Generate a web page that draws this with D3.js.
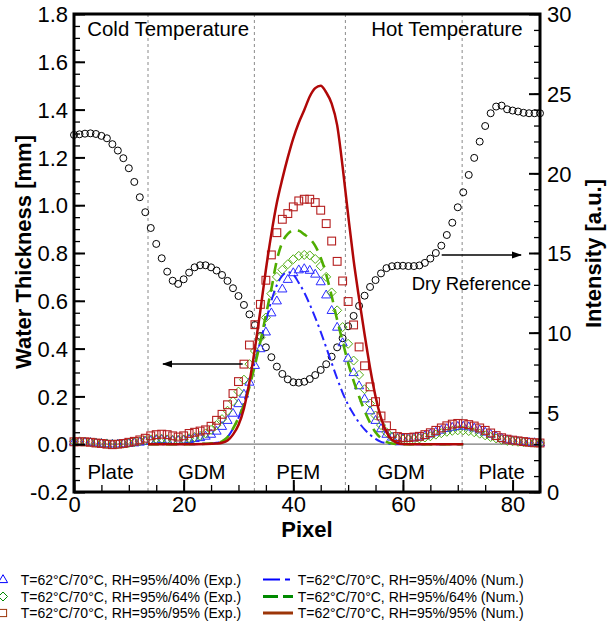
<!DOCTYPE html>
<html>
<head>
<meta charset="utf-8">
<script src="https://cdn.jsdelivr.net/npm/d3@7"></script>
<style>
  html, body { margin: 0; padding: 0; background: #fff; }
  svg { display: block; }
  text { font-family: "Liberation Sans", Arial, Helvetica, sans-serif; fill: #000; }
</style>
</head>
<body>
<svg id="chart" width="612" height="627"></svg>
<script>
// ---------------- DATA ----------------
const pixel = [0,1,2,3,4,5,6,7,8,9,10,11,12,13,14,15,16,17,18,19,20,21,22,23,24,25,26,27,28,29,
  30,31,32,33,34,35,36,37,38,39,40,41,42,43,44,45,46,47,48,49,50,51,52,53,54,55,56,57,58,59,
  60,61,62,63,64,65,66,67,68,69,70,71,72,73,74,75,76,77,78,79,80,81,82,83,84,85];

// Dry reference intensity [a.u.] (right axis)
const dryReference = [22.41,22.45,22.49,22.51,22.47,22.35,22.2,21.83,21.43,20.95,
  20.32,19.46,18.5,17.56,16.57,15.57,14.67,13.83,13.26,13.06,
  13.35,13.77,14.1,14.23,14.23,14.1,13.9,13.62,13.25,12.79,
  12.3,11.74,11.15,10.48,9.79,9.08,8.46,7.87,7.41,7.07,
  6.89,6.86,6.92,7.09,7.34,7.66,8.02,8.49,9.08,9.65,
  10.4,11.05,11.68,12.32,12.87,13.3,13.72,14.05,14.17,14.2,
  14.2,14.18,14.18,14.22,14.38,14.65,15.0,15.46,16.13,16.9,
  17.87,18.81,19.9,20.97,21.99,22.97,23.77,24.19,24.25,24.02,
  23.94,23.88,23.8,23.77,23.77,23.77];

// Experimental water thickness [mm]
const exp40 = [0.01,0.01,0.009,0.008,0.006,0.004,0.002,0.001,0.001,0.002,
  0.004,0.006,0.009,0.012,0.015,0.018,0.02,0.018,0.016,0.016,
  0.018,0.02,0.024,0.028,0.034,0.042,0.055,0.075,0.1,0.13,
  0.17,0.21,0.26,0.33,0.4,0.47,0.55,0.6,0.65,0.69,
  0.718,0.73,0.735,0.728,0.712,0.68,0.625,0.56,0.49,0.425,
  0.36,0.3,0.245,0.19,0.14,0.1,0.065,0.042,0.03,0.025,
  0.024,0.025,0.027,0.031,0.036,0.043,0.051,0.059,0.066,0.071,
  0.075,0.076,0.073,0.068,0.06,0.051,0.042,0.033,0.025,0.019,
  0.015,0.012,0.01,0.008,0.007,0.006];
const exp64 = [0.012,0.012,0.01,0.008,0.006,0.004,0.002,0.0,0.0,0.002,
  0.005,0.008,0.012,0.016,0.02,0.022,0.022,0.02,0.018,0.018,
  0.02,0.025,0.03,0.035,0.045,0.06,0.08,0.105,0.14,0.18,
  0.22,0.27,0.335,0.39,0.446,0.53,0.63,0.7,0.73,0.753,
  0.774,0.788,0.792,0.79,0.775,0.745,0.7,0.635,0.56,0.49,
  0.42,0.35,0.29,0.23,0.17,0.12,0.08,0.05,0.03,0.022,
  0.02,0.02,0.021,0.024,0.028,0.033,0.04,0.046,0.052,0.056,
  0.058,0.058,0.055,0.05,0.044,0.037,0.03,0.024,0.018,0.014,
  0.012,0.01,0.008,0.007,0.006,0.005];
const exp95 = [0.01,0.01,0.01,0.008,0.005,0.003,0.0,-0.002,0.0,0.003,
  0.008,0.012,0.018,0.025,0.035,0.04,0.042,0.04,0.035,0.03,
  0.035,0.045,0.05,0.055,0.06,0.075,0.1,0.125,0.165,0.212,
  0.262,0.335,0.415,0.5,0.585,0.686,0.792,0.885,0.941,0.965,
  0.993,1.018,1.025,1.025,1.011,0.979,0.923,0.85,0.765,0.683,
  0.597,0.499,0.407,0.328,0.24,0.178,0.118,0.077,0.045,0.032,
  0.028,0.028,0.03,0.033,0.04,0.048,0.058,0.068,0.077,0.084,
  0.087,0.086,0.082,0.076,0.068,0.058,0.047,0.036,0.027,0.021,
  0.017,0.014,0.011,0.008,0.006,0.005];

// Numerical water thickness [mm]
const numX = [13.5,20,24,26,27,28,29,30,31,32,33,34,35,36,37,38,39,40,41,42,43,44,45,46,47,48,49,50,
  51,52,53,54,55,56,57,58,59,60,62,71];
const num40 = [0,0,0.002,0.006,0.012,0.03,0.065,0.11,0.175,0.255,0.345,0.43,0.515,0.6,0.665,0.705,0.72,0.71,
  0.675,0.635,0.585,0.53,0.47,0.405,0.34,0.275,0.215,0.165,0.125,0.09,0.062,0.04,0.022,0.01,0.004,0.001,0,0,0,0];
const num64 = [0,0,0.002,0.006,0.012,0.03,0.065,0.11,0.165,0.24,0.33,0.43,0.54,0.65,0.77,0.845,0.88,0.895,
  0.893,0.878,0.86,0.83,0.78,0.71,0.62,0.52,0.43,0.34,0.265,0.2,0.14,0.09,0.05,0.025,0.01,0.003,0.001,0,0,0];
const num95 = [0,0,0.001,0.003,0.006,0.015,0.04,0.08,0.15,0.26,0.4,0.56,0.73,0.88,1.01,1.11,1.2,1.28,
  1.345,1.398,1.455,1.49,1.5,1.472,1.425,1.335,1.16,0.96,0.77,0.61,0.46,0.32,0.2,0.11,0.05,0.018,0.005,0.001,0,0];

// Region boundaries and labels
const boundaries = [13.5, 32.9, 49.5, 70.8];
const regionLabels = ["Plate", "GDM", "PEM", "GDM", "Plate"];
const regionCenters = [6.7, 23.3, 40.9, 59.7, 78.0];

// Axis ticks
const xTicks = [0, 20, 40, 60, 80];
const leftTicks = [-0.2, 0.0, 0.2, 0.4, 0.6, 0.8, 1.0, 1.2, 1.4, 1.6, 1.8];
const leftTickLabels = ["-0.2","0.0","0.2","0.4","0.6","0.8","1.0","1.2","1.4","1.6","1.8"];
const rightTicks = [0, 5, 10, 15, 20, 25, 30];
const rightTickLabels = ["0","5","10","15","20","25","30"];

const legendExp = ["T=62°C/70°C, RH=95%/40% (Exp.)", "T=62°C/70°C, RH=95%/64% (Exp.)", "T=62°C/70°C, RH=95%/95% (Exp.)"];
const legendNum = ["T=62°C/70°C, RH=95%/40% (Num.)", "T=62°C/70°C, RH=95%/64% (Num.)", "T=62°C/70°C, RH=95%/95% (Num.)"];

// ---------------- CHART ----------------
const svg = d3.select("#chart");
const L = 74, R = 540, T = 14, B = 492;
const x = d3.scaleLinear().domain([0, 85]).range([L, R]);
const yL = d3.scaleLinear().domain([-0.2, 1.8]).range([B, T]);
const yR = d3.scaleLinear().domain([0, 30]).range([B, T]);

const C = {
  blue: "#2b2bff", green: "#52ad14", red: "#b51f1f",
  blueLine: "#2323ff", greenLine: "#4fad00", redLine: "#b00808",
  legBlue: "#0000ff", legGreen: "#008a00", legRed: "#9c3508"
};

// vertical dashed boundaries
svg.append("g").selectAll("line").data(boundaries).join("line")
  .attr("x1", d => x(d)).attr("x2", d => x(d))
  .attr("y1", T).attr("y2", B)
  .attr("stroke", "#8a8a8a").attr("stroke-width", 1).attr("stroke-dasharray", "3,3");

// zero line
svg.append("line").attr("x1", x(0)).attr("x2", x(85)).attr("y1", yL(0)).attr("y2", yL(0))
  .attr("stroke", "#7a7a7a").attr("stroke-width", 1.2);

// dry reference circles
svg.append("g").selectAll("circle").data(pixel).join("circle")
  .attr("cx", (d) => x(d)).attr("cy", (d, i) => yR(dryReference[i]))
  .attr("r", 3.5).attr("fill", "none").attr("stroke", "#000").attr("stroke-width", 1);

// experimental markers
const triPath = "M0,-4.8L4.6,3.1L-4.6,3.1Z";
const diaPath = "M0,-4.5L4.5,0L0,4.5L-4.5,0Z";
const sq = 3.9;
svg.append("g").selectAll("path").data(pixel).join("path")
  .attr("d", triPath)
  .attr("transform", (d, i) => `translate(${x(d)},${yL(exp40[i])})`)
  .attr("fill", "none").attr("stroke", C.blue).attr("stroke-width", 1);
svg.append("g").selectAll("path").data(pixel).join("path")
  .attr("d", diaPath)
  .attr("transform", (d, i) => `translate(${x(d)},${yL(exp64[i])})`)
  .attr("fill", "none").attr("stroke", C.green).attr("stroke-width", 1);
svg.append("g").selectAll("rect").data(pixel).join("rect")
  .attr("x", d => x(d) - sq).attr("y", (d, i) => yL(exp95[i]) - sq)
  .attr("width", 2 * sq).attr("height", 2 * sq)
  .attr("fill", "none").attr("stroke", C.red).attr("stroke-width", 1.1);

// numerical lines
const lineGen = vals => d3.line().x((d) => x(d)).y((d, i) => yL(vals[i])).curve(d3.curveMonotoneX)(numX);
svg.append("path").attr("d", lineGen(num40)).attr("fill", "none")
  .attr("stroke", C.blueLine).attr("stroke-width", 2).attr("stroke-dasharray", "10,4,2.5,4");
svg.append("path").attr("d", lineGen(num64)).attr("fill", "none")
  .attr("stroke", C.greenLine).attr("stroke-width", 2.6).attr("stroke-dasharray", "11,7");
svg.append("path").attr("d", lineGen(num95)).attr("fill", "none")
  .attr("stroke", C.redLine).attr("stroke-width", 2.5);

// ---------- axes ----------
function styleAxis(g) {
  g.select(".domain").remove();
  g.selectAll(".tick line").attr("stroke", "#000").attr("stroke-width", 2);
  g.selectAll(".tick text").style("font-size", "22px").attr("fill", "#000");
}
// left
svg.append("g").attr("transform", `translate(${L},0)`)
  .call(d3.axisLeft(yL).tickValues(leftTicks).tickSize(-11).tickPadding(6)
    .tickFormat((d, i) => leftTickLabels[i]))
  .call(styleAxis)
  .call(g => g.selectAll(".tick text").attr("dy", "0.35em"));
svg.append("g").attr("transform", `translate(${L},0)`)
  .call(d3.axisLeft(yL).ticks(40).tickSize(-6).tickFormat(""))
  .call(styleAxis)
  .call(g => g.selectAll(".tick line").attr("stroke-width", 1.3));
// right
svg.append("g").attr("transform", `translate(${R},0)`)
  .call(d3.axisRight(yR).tickValues(rightTicks).tickSize(-11).tickPadding(7)
    .tickFormat((d, i) => rightTickLabels[i]))
  .call(styleAxis)
  .call(g => g.selectAll(".tick text").attr("dy", "0.35em"));
svg.append("g").attr("transform", `translate(${R},0)`)
  .call(d3.axisRight(yR).ticks(30).tickSize(-6).tickFormat(""))
  .call(styleAxis)
  .call(g => g.selectAll(".tick line").attr("stroke-width", 1.3));
// bottom
svg.append("g").attr("transform", `translate(0,${B})`)
  .call(d3.axisBottom(x).tickValues(xTicks).tickSize(-12).tickPadding(4))
  .call(styleAxis);
svg.append("g").attr("transform", `translate(0,${B})`)
  .call(d3.axisBottom(x).ticks(17).tickSize(-7).tickFormat(""))
  .call(styleAxis)
  .call(g => g.selectAll(".tick line").attr("stroke-width", 1.3));

// frame
svg.append("rect").attr("x", L).attr("y", T).attr("width", R - L).attr("height", B - T)
  .attr("fill", "none").attr("stroke", "#000").attr("stroke-width", 3);

// axis titles
svg.append("text").attr("transform", `translate(31,252) rotate(-90)`)
  .attr("text-anchor", "middle").style("font-size", "22px").style("font-weight", "bold")
  .text("Water Thickness [mm]");
svg.append("text").attr("transform", `translate(601,253.5) rotate(-90)`)
  .attr("text-anchor", "middle").style("font-size", "22px").style("font-weight", "bold")
  .text("Intensity [a.u.]");
svg.append("text").attr("x", 307).attr("y", 537)
  .attr("text-anchor", "middle").style("font-size", "22px").style("font-weight", "bold")
  .text("Pixel");

// region labels
svg.append("g").selectAll("text").data(regionLabels).join("text")
  .attr("x", (d, i) => x(regionCenters[i])).attr("y", 479)
  .attr("text-anchor", "middle").style("font-size", "20.4px").text(d => d);
svg.append("text").attr("x", 87.3).attr("y", 36).style("font-size", "20.4px").text("Cold Temperature");
svg.append("text").attr("x", 522.7).attr("y", 36).attr("text-anchor", "end").style("font-size", "20.4px").text("Hot Temperature");
svg.append("text").attr("x", 531).attr("y", 289.5).attr("text-anchor", "end").style("font-size", "18.5px").text("Dry Reference");

// arrows
const defs = svg.append("defs");
defs.append("marker").attr("id", "ah").attr("viewBox", "0 0 10 10").attr("refX", 9).attr("refY", 5)
  .attr("markerWidth", 10).attr("markerHeight", 10).attr("markerUnits", "userSpaceOnUse")
  .attr("orient", "auto")
  .append("path").attr("d", "M0,1.5L10,5L0,8.5Z").attr("fill", "#000");
svg.append("line").attr("x1", 242.7).attr("y1", 364).attr("x2", 163).attr("y2", 364)
  .attr("stroke", "#000").attr("stroke-width", 1.3).attr("marker-end", "url(#ah)");
svg.append("line").attr("x1", 441.7).attr("y1", 255).attr("x2", 521).attr("y2", 255)
  .attr("stroke", "#000").attr("stroke-width", 1.3).attr("marker-end", "url(#ah)");

// ---------- legend ----------
const rowY = [579.5, 596.5, 613];
const leg = svg.append("g");
leg.append("path").attr("d", triPath).attr("transform", `translate(3,${rowY[0]})`)
  .attr("fill", "none").attr("stroke", C.legBlue).attr("stroke-width", 1);
leg.append("path").attr("d", diaPath).attr("transform", `translate(3,${rowY[1]})`)
  .attr("fill", "none").attr("stroke", C.legGreen).attr("stroke-width", 1);
leg.append("rect").attr("x", 3 - 3.6).attr("y", rowY[2] - 3.6).attr("width", 7.2).attr("height", 7.2)
  .attr("fill", "none").attr("stroke", C.legRed).attr("stroke-width", 1);
leg.selectAll("text.e").data(legendExp).join("text").attr("class", "e")
  .attr("x", 20.7).attr("y", (d, i) => rowY[i] + 5).style("font-size", "14px").text(d => d);
leg.selectAll("text.n").data(legendNum).join("text").attr("class", "n")
  .attr("x", 297.7).attr("y", (d, i) => rowY[i] + 5).style("font-size", "14px").text(d => d);
leg.append("line").attr("x1", 263).attr("x2", 293).attr("y1", rowY[0]).attr("y2", rowY[0])
  .attr("stroke", C.legBlue).attr("stroke-width", 2.2).attr("stroke-dasharray", "17,5,5,20");
leg.append("line").attr("x1", 263).attr("x2", 293).attr("y1", rowY[1]).attr("y2", rowY[1])
  .attr("stroke", C.legGreen).attr("stroke-width", 3).attr("stroke-dasharray", "15,5,12,5");
leg.append("line").attr("x1", 263).attr("x2", 293).attr("y1", rowY[2]).attr("y2", rowY[2])
  .attr("stroke", C.legRed).attr("stroke-width", 3);
</script>
</body>
</html>
